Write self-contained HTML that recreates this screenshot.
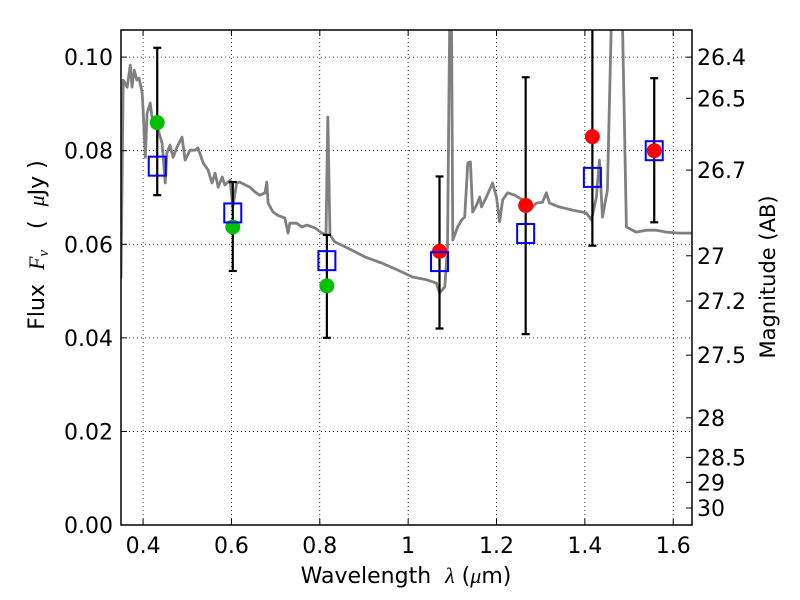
<!DOCTYPE html>
<html><head><meta charset="utf-8"><style>
body{margin:0;background:#fff;}
svg{display:block;font-family:"DejaVu Sans","Liberation Sans",sans-serif;}
.pre{white-space:pre;}
</style></head><body>
<svg id="chart" width="800" height="600" viewBox="0 0 800 600"></svg>
<script>
const spectrumWl=[0.350,0.355,0.364,0.371,0.375,0.380,0.386,0.391,0.398,0.400,0.405,0.409,0.416,0.423,0.432,0.443,0.450,0.454,0.461,0.468,0.477,0.488,0.495,0.506,0.518,0.524,0.536,0.547,0.556,0.563,0.570,0.579,0.585,0.597,0.603,0.612,0.619,0.631,0.642,0.653,0.664,0.676,0.680,0.683,0.694,0.705,0.721,0.728,0.732,0.748,0.759,0.771,0.789,0.805,0.814,0.818,0.823,0.834,0.863,0.902,0.940,0.976,1.010,1.042,1.064,1.071,1.083,1.089,1.094,1.098,1.101,1.112,1.121,1.128,1.135,1.141,1.146,1.155,1.162,1.166,1.177,1.191,1.200,1.207,1.214,1.225,1.241,1.259,1.275,1.290,1.304,1.313,1.320,1.342,1.372,1.403,1.415,1.426,1.433,1.440,1.451,1.460,1.485,1.494,1.516,1.539,1.562,1.584,1.613,1.643];
const spectrumFlux=[0.0528,0.0951,0.0936,0.0983,0.0936,0.0972,0.0951,0.0955,0.0923,0.0887,0.0786,0.0880,0.0902,0.0851,0.0851,0.0816,0.0731,0.0795,0.0812,0.0786,0.0808,0.0829,0.0780,0.0801,0.0801,0.0806,0.0774,0.0759,0.0731,0.0752,0.0722,0.0744,0.0727,0.0737,0.0680,0.0731,0.0733,0.0727,0.0722,0.0712,0.0705,0.0710,0.0733,0.0688,0.0669,0.0662,0.0656,0.0624,0.0645,0.0645,0.0637,0.0641,0.0635,0.0624,0.0620,0.0872,0.0620,0.0605,0.0592,0.0573,0.0560,0.0545,0.0530,0.0524,0.0517,0.0496,0.0509,0.0594,0.108,0.108,0.0609,0.0637,0.0652,0.0658,0.0774,0.0776,0.0669,0.0684,0.0701,0.0680,0.0701,0.0731,0.0701,0.0648,0.0695,0.0710,0.0705,0.0695,0.0673,0.0688,0.0690,0.0710,0.0688,0.0680,0.0673,0.0667,0.0652,0.0701,0.0780,0.0658,0.0716,0.108,0.108,0.0637,0.0626,0.0630,0.0630,0.0626,0.0624,0.0624];
const greenWl=[0.432,0.603,0.816];
const greenFlux=[0.0860,0.0637,0.0511];
const redWl=[1.071,1.266,1.417,1.557];
const redFlux=[0.0585,0.0683,0.0830,0.0800];
const modelWl=[0.432,0.603,0.816,1.071,1.266,1.417,1.557];
const modelFlux=[0.0767,0.0667,0.0565,0.0563,0.0623,0.0743,0.0800];
const errLow=[0.0705,0.0543,0.0400,0.0420,0.0408,0.0597,0.0647];
const errHigh=[0.1020,0.0733,0.0620,0.0745,0.0957,0.1060,0.0955];
const xTicks=[0.4,0.6,0.8,1.0,1.2,1.4,1.6];
const xTickLabels=["0.4","0.6","0.8","1","1.2","1.4","1.6"];
const yTicks=[0,0.02,0.04,0.06,0.08,0.10];
const yTickLabels=["0.00","0.02","0.04","0.06","0.08","0.10"];
const magTicks=[26.4,26.5,26.7,27,27.2,27.5,28,28.5,29,30];
const magTickLabels=["26.4","26.5","26.7","27","27.2","27.5","28","28.5","29","30"];

const L=121,R=692,T=30,B=525,X0=0.35,X1=1.6425,Y0=0,Y1=0.1058;
const sx=v=>L+(v-X0)/(X1-X0)*(R-L);
const sy=v=>B-(v-Y0)/(Y1-Y0)*(B-T);
const NS="http://www.w3.org/2000/svg";
const svg=document.getElementById('chart');
function mk(tag,attrs,parent){const e=document.createElementNS(NS,tag);for(const k in attrs)e.setAttribute(k,attrs[k]);(parent||svg).appendChild(e);return e;}

const defs=mk('defs',{});
const cp=mk('clipPath',{id:'clip'},defs);mk('rect',{x:L,y:T,width:R-L,height:B-T},cp);

const grid=mk('g',{stroke:'#000','stroke-width':0.8,'stroke-dasharray':'1,3'});


xTicks.forEach(v=>{mk('line',{x1:sx(v),x2:sx(v),y1:T,y2:B},grid);});
yTicks.forEach(v=>{mk('line',{x1:L,x2:R,y1:sy(v),y2:sy(v)},grid);});

const plot=mk('g',{'clip-path':'url(#clip)'});
let d=spectrumWl.map((w,i)=>(i?'L':'M')+sx(w).toFixed(1)+','+sy(spectrumFlux[i]).toFixed(1)).join('');
const sp=mk('path',{d:d,fill:'none',stroke:'#808080','stroke-width':2.8,'stroke-linejoin':'round'},plot);



modelWl.forEach((w,i)=>{
  const g=mk('g',{stroke:'#000','stroke-width':2.2},plot);
  
  
  const x=sx(w);
  mk('line',{x1:x,x2:x,y1:sy(errLow[i]),y2:sy(errHigh[i])},g);
  mk('line',{x1:x-4,x2:x+4,y1:sy(errLow[i]),y2:sy(errLow[i])},g);
  mk('line',{x1:x-4,x2:x+4,y1:sy(errHigh[i]),y2:sy(errHigh[i])},g);
});
greenWl.forEach((w,i)=>{
  const c=mk('circle',{cx:sx(w),cy:sy(greenFlux[i]),r:7.5,fill:'#00c000'},plot);
  
  
});
redWl.forEach((w,i)=>{
  const c=mk('circle',{cx:sx(w),cy:sy(redFlux[i]),r:7.5,fill:'#ff0000'},plot);
  
  
});
modelWl.forEach((w,i)=>{
  const r=mk('rect',{x:sx(w)-8.5,y:sy(modelFlux[i])-9.5,width:17,height:19,fill:'none',stroke:'#0000ff','stroke-width':2},plot);
  
  
});

const fr=mk('rect',{x:L,y:T,width:R-L,height:B-T,fill:'none',stroke:'#000','stroke-width':1.5});



const FS=22;
const ticks=mk('g',{stroke:'#000','stroke-width':1});
xTicks.forEach((v,i)=>{
  mk('line',{x1:sx(v),x2:sx(v),y1:B,y2:B-6},ticks);
  mk('line',{x1:sx(v),x2:sx(v),y1:T,y2:T+6},ticks);
  const t=mk('text',{x:sx(v),y:B+28,'text-anchor':'middle','font-size':FS,fill:'#000',stroke:'none'});
  t.textContent=xTickLabels[i];
  
  
});
yTicks.forEach((v,i)=>{
  mk('line',{x1:L,x2:L+6,y1:sy(v),y2:sy(v)},ticks);
  const t=mk('text',{x:L-8,y:sy(v)+8,'text-anchor':'end','font-size':FS,fill:'#000',stroke:'none'});
  t.textContent=yTickLabels[i];
  
  
});
magTicks.forEach((m,i)=>{
  const f=Math.pow(10,(23.9-m)/2.5);
  const y=sy(f);
  mk('line',{x1:R,x2:R-6,y1:y,y2:y},ticks);
  const t=mk('text',{x:R+5,y:y+8,'text-anchor':'start','font-size':FS,fill:'#000',stroke:'none'});
  t.textContent=magTickLabels[i];
  
  
});

const xt=mk('text',{x:406,y:583,'text-anchor':'middle','font-size':22,fill:'#000','class':'pre'});
xt.innerHTML='Wavelength  <tspan font-family="Liberation Serif,serif" font-style="italic">λ</tspan> (<tspan font-family="Liberation Serif,serif" font-style="italic">μ</tspan>m)';


const yt=mk('text',{transform:'translate(44,245) rotate(-90)','text-anchor':'middle','font-size':22,fill:'#000','class':'pre'});
yt.innerHTML='Flux  <tspan font-family="Liberation Serif,serif" font-style="italic">F</tspan><tspan font-family="Liberation Serif,serif" font-style="italic" font-size="15" dy="4">ν</tspan><tspan dy="-4">   (  </tspan><tspan font-family="Liberation Serif,serif" font-style="italic">μ</tspan>Jy )';


const rt=mk('text',{transform:'translate(775,277) rotate(-90)','text-anchor':'middle','font-size':21,fill:'#000'});
rt.textContent='Magnitude (AB)';


</script>
</body></html>
